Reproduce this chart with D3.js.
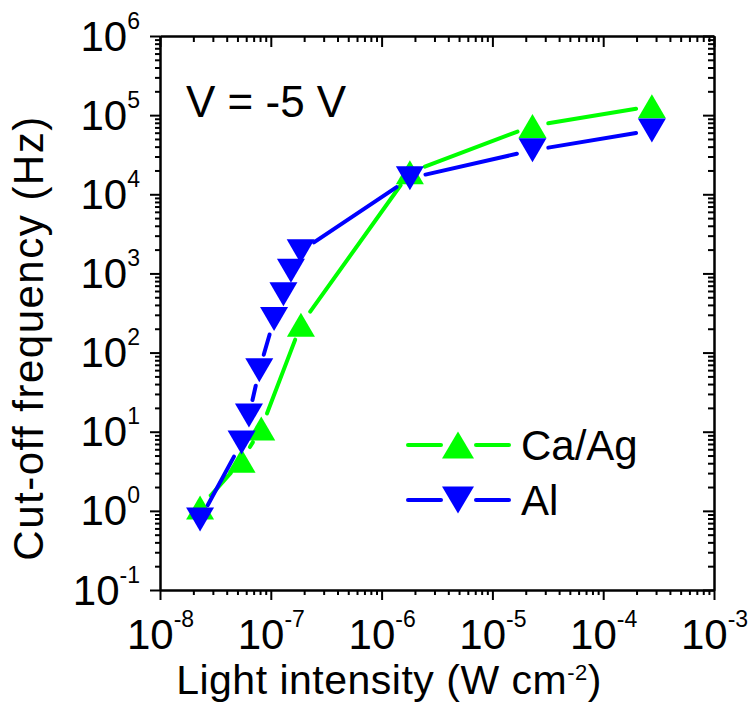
<!DOCTYPE html>
<html>
<head>
<meta charset="utf-8">
<script src="https://cdn.jsdelivr.net/npm/d3@7"></script>
<style>
  body { margin: 0; background: #fff; }
  svg text { font-family: "Liberation Sans", Arial, sans-serif; fill: #000; }
  .axis path, .axis line { stroke: #000; stroke-width: 2; }
</style>
</head>
<body>
<svg id="chart"></svg>
<script>
// light intensity (W cm-2) and cut-off frequency (Hz)
const caX = [2.3e-8, 5.45e-8, 8.2e-8, 1.87e-7, 1.8e-6, 2.3e-5, 2.75e-4];
const caY = [1.1, 4.3, 11, 225, 1.9e4, 7.3e4, 1.3e5];
const alX = [2.3e-8, 5.45e-8, 6.35e-8, 7.87e-8, 1.07e-7, 1.3e-7, 1.52e-7, 1.86e-7, 1.8e-6, 2.3e-5, 2.75e-4];
const alY = [0.78, 7.3, 16, 60, 265, 545, 1080, 1900, 1.6e4, 3.6e4, 6.4e4];

const xDecades = [-8, -7, -6, -5, -4, -3];
const yDecades = [-1, 0, 1, 2, 3, 4, 5, 6];

const seriesNames = ['Ca/Ag', 'Al'];
const seriesColors = ['#00ff00', '#0000ff'];

draw_chart();

function draw_chart() {
    /* Set the dimensions for the graph. */
    const margin = {top: 36, left: 160};
    const width = 554;
    const height = 554;

    const svg = d3.select('#chart')
        .attr('width', 753)
        .attr('height', 721);

    const g = svg.append('g')
        .attr('transform', 'translate(' + margin.left + ',' + margin.top + ')');

    const x = d3.scaleLog()
        .domain([Math.pow(10, xDecades[0]), Math.pow(10, xDecades[xDecades.length - 1])])
        .range([0, width]);

    const y = d3.scaleLog()
        .domain([Math.pow(10, yDecades[0]), Math.pow(10, yDecades[yDecades.length - 1])])
        .range([height, 0]);

    const xMajor = xDecades.map(d => Math.pow(10, d));
    const yMajor = yDecades.map(d => Math.pow(10, d));
    const minorOf = decs => {
        const out = [];
        decs.slice(0, -1).forEach(d => {
            for (let k = 2; k <= 9; k++) out.push(k * Math.pow(10, d));
        });
        return out;
    };
    const xMinor = minorOf(xDecades);
    const yMinor = minorOf(yDecades);

    /* minor ticks on all four sides */
    g.append('g').attr('class', 'axis')
        .attr('transform', 'translate(0,' + height + ')')
        .call(d3.axisBottom(x).tickValues(xMinor).tickSize(5).tickSizeOuter(0).tickFormat(''));
    g.append('g').attr('class', 'axis')
        .call(d3.axisBottom(x).tickValues(xMinor).tickSize(6).tickSizeOuter(0).tickFormat(''));
    g.append('g').attr('class', 'axis')
        .call(d3.axisLeft(y).tickValues(yMinor).tickSize(5).tickSizeOuter(0).tickFormat(''));
    g.append('g').attr('class', 'axis')
        .attr('transform', 'translate(' + width + ',0)')
        .call(d3.axisLeft(y).tickValues(yMinor).tickSize(6).tickSizeOuter(0).tickFormat(''));

    /* major ticks */
    const xAxis = g.append('g').attr('class', 'axis')
        .attr('transform', 'translate(0,' + height + ')')
        .call(d3.axisBottom(x).tickValues(xMajor).tickSize(10).tickSizeOuter(0).tickPadding(19));
    g.append('g').attr('class', 'axis')
        .call(d3.axisBottom(x).tickValues(xMajor).tickSize(11).tickSizeOuter(0).tickFormat(''));
    const yAxis = g.append('g').attr('class', 'axis')
        .call(d3.axisLeft(y).tickValues(yMajor).tickSize(10).tickSizeOuter(0).tickPadding(10));
    g.append('g').attr('class', 'axis')
        .attr('transform', 'translate(' + width + ',0)')
        .call(d3.axisLeft(y).tickValues(yMajor).tickSize(11).tickSizeOuter(0).tickFormat(''));

    /* power-of-ten labels with superscripts */
    const powLabel = (sel, exps) => {
        sel.selectAll('.tick text')
            .attr('font-size', 42)
            .attr('font-family', null)
            .text(null)
            .each(function(d, i) {
                const t = d3.select(this);
                t.append('tspan').text('10');
                t.append('tspan').attr('font-size', 23).attr('dy', -22).text(exps[i]);
            });
    };
    powLabel(xAxis, xDecades);
    xAxis.selectAll('.tick text').attr('dy', '0.71em').attr('text-anchor', 'middle');
    powLabel(yAxis, yDecades);
    yAxis.selectAll('.tick text').attr('dy', 14).attr('text-anchor', 'end');

    /* lines with gaps around the markers, then markers */
    const gap = 16;
    const tri = (cx, cy, w, h, up) => up
        ? 'M' + (cx - w / 2) + ',' + (cy + h / 2) + 'L' + cx + ',' + (cy - h / 2) + 'L' + (cx + w / 2) + ',' + (cy + h / 2) + 'Z'
        : 'M' + (cx - w / 2) + ',' + (cy - h / 2) + 'L' + cx + ',' + (cy + h / 2) + 'L' + (cx + w / 2) + ',' + (cy - h / 2) + 'Z';

    const series = [
        {xs: caX, ys: caY, color: seriesColors[0], up: true},
        {xs: alX, ys: alY, color: seriesColors[1], up: false}
    ];

    series.forEach(s => {
        const pts = s.xs.map((v, i) => [x(v), y(s.ys[i])]);
        const segs = [];
        for (let i = 0; i < pts.length - 1; i++) {
            const [x0, y0] = pts[i], [x1, y1] = pts[i + 1];
            const len = Math.hypot(x1 - x0, y1 - y0);
            if (len <= 2 * gap) continue;
            const ux = (x1 - x0) / len, uy = (y1 - y0) / len;
            segs.push([x0 + ux * gap, y0 + uy * gap, x1 - ux * gap, y1 - uy * gap]);
        }
        g.append('g').selectAll('line')
            .data(segs)
            .enter().append('line')
            .attr('x1', d => d[0]).attr('y1', d => d[1])
            .attr('x2', d => d[2]).attr('y2', d => d[3])
            .attr('stroke', s.color)
            .attr('stroke-width', 4)
            .attr('stroke-linecap', 'round');
        g.append('g').selectAll('path')
            .data(pts)
            .enter().append('path')
            .attr('d', d => tri(d[0], d[1], 28, 24, s.up))
            .attr('fill', s.color);
    });

    /* legend */
    const legend = svg.append('g');
    series.forEach((s, i) => {
        const ly = 445 + i * 55;
        legend.append('line').attr('x1', 408).attr('x2', 441).attr('y1', ly).attr('y2', ly)
            .attr('stroke', s.color).attr('stroke-width', 4).attr('stroke-linecap', 'round');
        legend.append('line').attr('x1', 476).attr('x2', 509).attr('y1', ly).attr('y2', ly)
            .attr('stroke', s.color).attr('stroke-width', 4).attr('stroke-linecap', 'round');
        legend.append('path').attr('d', tri(458, ly, 32, 27, s.up)).attr('fill', s.color);
        legend.append('text').attr('x', 521).attr('y', ly + 15)
            .attr('font-size', 42).text(seriesNames[i]);
    });

    /* annotation */
    svg.append('text').attr('x', 186).attr('y', 117)
        .attr('font-size', 44).text('V = -5 V');

    /* axis titles */
    const xt = svg.append('text')
        .attr('x', 389).attr('y', 694)
        .attr('text-anchor', 'middle')
        .attr('font-size', 41)
        .attr('letter-spacing', 0.5);
    xt.append('tspan').text('Light intensity (W cm');
    xt.append('tspan').attr('font-size', 22).attr('dy', -14).text('-2');
    xt.append('tspan').attr('dy', 14).text(')');

    svg.append('text')
        .attr('transform', 'translate(43,338) rotate(-90)')
        .attr('text-anchor', 'middle')
        .attr('font-size', 42)
        .attr('letter-spacing', 1.5)
        .text('Cut-off frequency (Hz)');
}
</script>
</body>
</html>
